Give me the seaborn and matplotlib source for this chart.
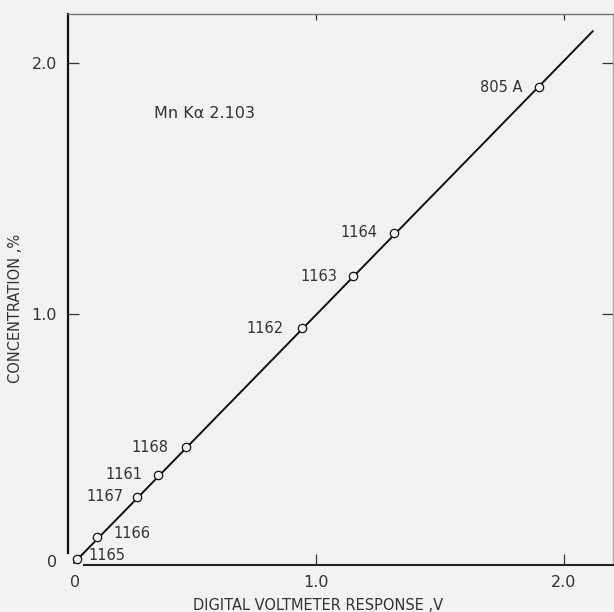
import matplotlib
matplotlib.use("Agg")
import matplotlib.pyplot as plt
import matplotlib.transforms as mtransforms
import seaborn as sns
import pandas as pd

# Data
sample_ids = ["1165", "1166", "1167", "1161", "1168", "1162", "1163", "1164", "805 A"]
response_v = [0.036, 0.117, 0.278, 0.363, 0.476, 0.944, 1.149, 1.315, 1.899]
concentration = [0.024, 0.112, 0.271, 0.359, 0.470, 0.944, 1.151, 1.323, 1.904]
fit_x = [0.024, 2.117]
fit_y = [0.008, 2.127]
x_ticks = [0.0, 1.0, 2.0]
x_tick_labels = ["0", "1.0", "2.0"]
y_ticks = [0.0, 1.0, 2.0]
y_tick_labels = ["0", "1.0", "2.0"]

# label offsets (pixels) and alignment
label_dx = [12, 16, -13, -16, -18, -19, -16, -17, -16]
label_dy = [3, 3, 0, 0, 0, 0, 0, 0, 0]

bg = "#f2f2f2"
ink = "#333333"

sns.set_style("ticks")
plt.rcParams["font.family"] = ["DejaVu Sans"]

fig = plt.figure(figsize=(6.14, 6.12), dpi=100, facecolor=bg)
ax = fig.add_axes([68 / 614, 47 / 612, 545 / 614, 551 / 612])
ax.set_facecolor(bg)

df_pts = pd.DataFrame({"x": response_v, "y": concentration, "id": sample_ids})
df_fit = pd.DataFrame({"x": fit_x, "y": fit_y})

sns.lineplot(data=df_fit, x="x", y="y", ax=ax, color="#111111", linewidth=1.4, zorder=2)
sns.scatterplot(data=df_pts, x="x", y="y", ax=ax, s=36, marker="o",
                facecolor=bg, edgecolor="#111111", linewidth=0.9, zorder=3)

for sid, xv, yv, dx, dy in zip(sample_ids, response_v, concentration, label_dx, label_dy):
    ax.annotate(sid, (xv, yv), xytext=(dx, dy), textcoords="offset pixels",
                ha="left" if dx > 0 else "right", va="center",
                fontsize=10.5, color=ink)

ax.text(0.345, 1.80, "Mn Kα 2.103", ha="left", va="center", fontsize=11.5, color=ink)

ax.set_xlim(0, 2.198)
ax.set_ylim(0, 2.195)
ax.set_xticks(x_ticks)
ax.set_xticklabels(x_tick_labels)
ax.set_yticks(y_ticks)
ax.set_yticklabels(y_tick_labels)

ax.tick_params(axis="both", which="major", direction="in", length=8, width=0.9,
               colors="#333333", labelsize=11.5, labelcolor=ink,
               top=True, right=True)
ax.tick_params(axis="x", pad=7)
ax.tick_params(axis="y", pad=8)

for t in [ax.xaxis.get_major_ticks()[0], ax.yaxis.get_major_ticks()[0]]:
    t.tick1line.set_visible(False)
    t.tick2line.set_visible(False)

for t in ax.xaxis.get_major_ticks():
    t.tick2line.set_markersize(4)

# nudge the "0" labels as in the reference
xl0 = ax.get_xticklabels()[0]
xl0.set_transform(xl0.get_transform() + mtransforms.ScaledTranslation(7 / 100, 0, fig.dpi_scale_trans))
yl0 = ax.get_yticklabels()[0]
yl0.set_transform(yl0.get_transform() + mtransforms.ScaledTranslation(0, 4 / 100, fig.dpi_scale_trans))

ax.set_xlabel("DIGITAL VOLTMETER RESPONSE ,V", fontsize=10.5, color=ink)
ax.set_ylabel("CONCENTRATION ,%", fontsize=10.5, color=ink)
ax.xaxis.set_label_coords(0.459, -0.060)
ax.yaxis.set_label_coords(-0.083, 0.466)

ax.spines["left"].set_color("#111111")
ax.spines["left"].set_linewidth(1.6)
ax.spines["left"].set_bounds(0.048, 2.195)
ax.spines["bottom"].set_color("#222222")
ax.spines["bottom"].set_linewidth(1.5)
ax.spines["bottom"].set_bounds(0.065, 2.198)
ax.spines["top"].set_color("#777777")
ax.spines["top"].set_linewidth(1.0)
ax.spines["right"].set_color("#aaaaaa")
ax.spines["right"].set_linewidth(1.0)

fig.savefig("out.png", dpi=100, facecolor=bg)
